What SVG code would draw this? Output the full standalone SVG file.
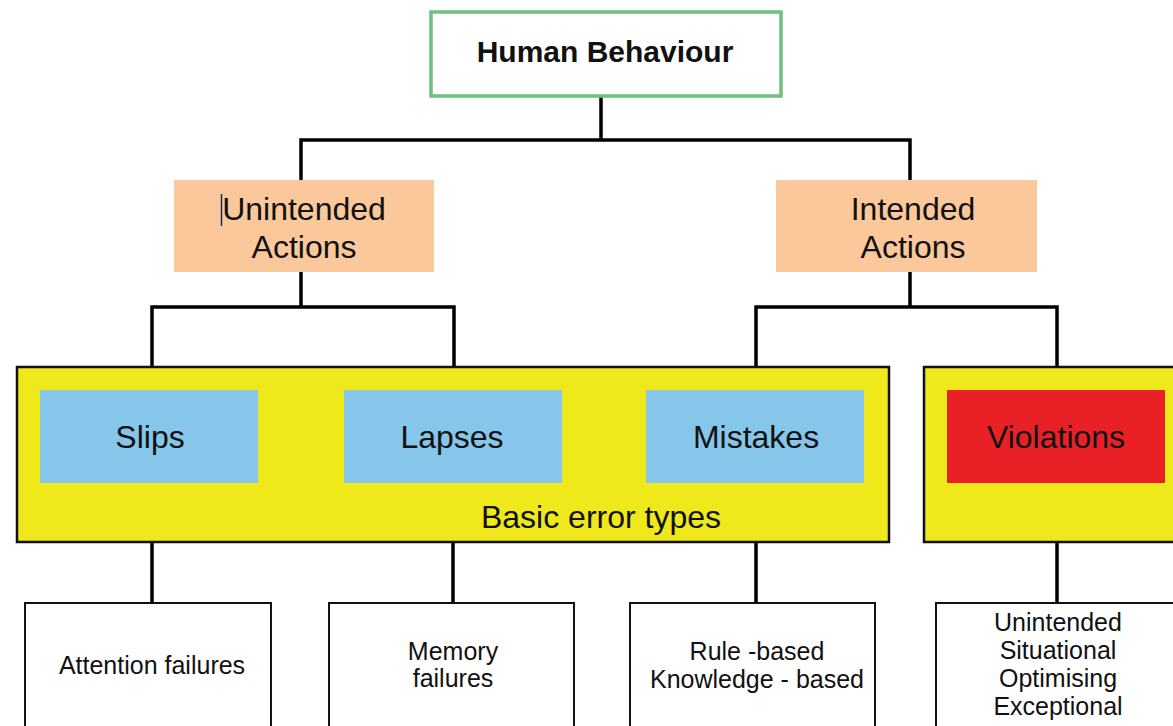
<svg xmlns="http://www.w3.org/2000/svg" width="1173" height="726" viewBox="0 0 1173 726">
  <style>
    text { font-family: "Liberation Sans", Arial, sans-serif; fill: #111; text-anchor: middle; }
    .title { font-size: 30px; font-weight: bold; }
    .big { font-size: 32px; }
    .mid { font-size: 32px; }
    .small { font-size: 25px; }
    .line { stroke: #000; stroke-width: 3.5; fill: none; }
    .action { fill: #fbc89b; }
    .group { fill: #efe81a; stroke: #111; stroke-width: 2.5; }
    .err { fill: #85c6ea; }
    .viol { fill: #e92127; }
    .leaf { fill: #fff; stroke: #111; stroke-width: 2; }
  </style>

  <!-- connectors -->
  <g id="connectors">
    <path class="line" d="M601 96 V140 M301 180 V140 H910 V180"/>
    <path class="line" d="M301 272 V307 M152 367 V307 H454 V367"/>
    <path class="line" d="M910 272 V307 M756 367 V307 H1057 V367"/>
    <path class="line" d="M152 542 V603 M453 542 V603 M756 542 V603 M1057 542 V603"/>
  </g>

  <g id="human-behaviour">
    <rect x="431" y="12" width="350" height="84" fill="#fff" stroke="#6fc07f" stroke-width="3.5"/>
    <text class="title" x="605" y="62">Human Behaviour</text>
  </g>

  <g id="unintended-actions">
    <rect class="action" x="174" y="180" width="260" height="92"/>
    <line x1="221.5" y1="194" x2="221.5" y2="226" stroke="#1a2a5a" stroke-width="1.5"/>
    <text class="big" x="304" y="220">Unintended</text>
    <text class="big" x="304" y="258">Actions</text>
  </g>

  <g id="intended-actions">
    <rect class="action" x="776" y="180" width="261" height="92"/>
    <text class="big" x="913" y="220">Intended</text>
    <text class="big" x="913" y="258">Actions</text>
  </g>

  <g id="basic-error-types">
    <rect class="group" x="17" y="367" width="872" height="175"/>
    <text class="mid" x="601" y="528">Basic error types</text>
  </g>

  <g id="violations-group">
    <rect class="group" x="924" y="367" width="260" height="175"/>
  </g>

  <g id="slips">
    <rect class="err" x="40" y="390" width="218" height="93"/>
    <text class="big" x="150" y="448">Slips</text>
  </g>
  <g id="lapses">
    <rect class="err" x="344" y="390" width="218" height="93"/>
    <text class="big" x="452" y="448">Lapses</text>
  </g>
  <g id="mistakes">
    <rect class="err" x="646" y="390" width="218" height="93"/>
    <text class="big" x="756" y="448">Mistakes</text>
  </g>
  <g id="violations">
    <rect class="viol" x="947" y="390" width="218" height="93"/>
    <text class="big" x="1056" y="448">Violations</text>
  </g>

  <g id="attention-failures">
    <rect class="leaf" x="25" y="603" width="246" height="140"/>
    <text class="small" x="152" y="674">Attention failures</text>
  </g>
  <g id="memory-failures">
    <rect class="leaf" x="329" y="603" width="245" height="140"/>
    <text class="small" x="453" y="660">Memory</text>
    <text class="small" x="453" y="687">failures</text>
  </g>
  <g id="mistake-kinds">
    <rect class="leaf" x="630" y="603" width="245" height="140"/>
    <text class="small" x="757" y="660">Rule -based</text>
    <text class="small" x="757" y="688">Knowledge - based</text>
  </g>
  <g id="violation-kinds">
    <rect class="leaf" x="936" y="603" width="250" height="140"/>
    <text class="small" x="1058" y="631">Unintended</text>
    <text class="small" x="1058" y="659">Situational</text>
    <text class="small" x="1058" y="687">Optimising</text>
    <text class="small" x="1058" y="715">Exceptional</text>
  </g>
</svg>
